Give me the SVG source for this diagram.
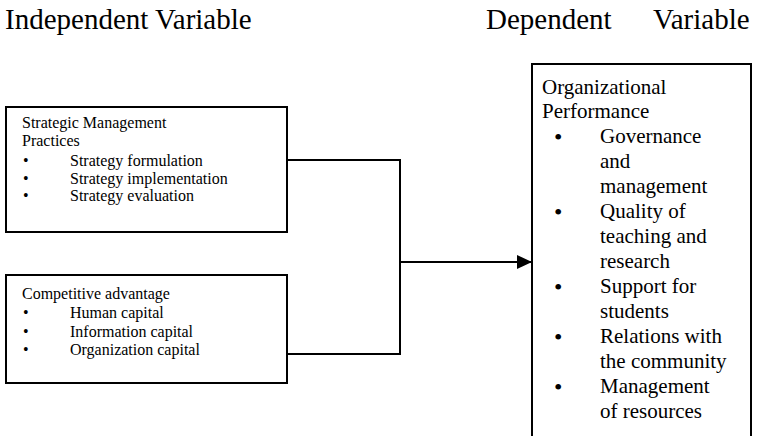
<svg xmlns="http://www.w3.org/2000/svg" width="760" height="436" viewBox="0 0 760 436" font-family="'Liberation Serif', 'Times New Roman', Times, serif">
<defs>
<style>
text{font-family:'Liberation Serif','Times New Roman',Times,serif;fill:#000}
.h{font-size:29px}
.s{font-size:16px}
.m{font-size:21px}
.bm{font-size:24px}
.box{fill:#fff;stroke:#000;stroke-width:2}
.conn{fill:none;stroke:#000;stroke-width:2}
</style>
<marker id="arr" markerWidth="15" markerHeight="14" refX="15" refY="7" orient="auto" markerUnits="userSpaceOnUse">
<path d="M0,0 L15,7 L0,14 Z" fill="#000"/>
</marker>
</defs>
<rect width="760" height="436" fill="#fff"/>
<g id="headings">
<text class="h" x="5" y="29">Independent Variable</text>
<text class="h" x="486" y="29">Dependent</text>
<text class="h" x="653" y="29">Variable</text>
</g>
<g id="connectors">
<polyline class="conn" points="287,160 400,160 400,354 287,354"/>
<line class="conn" x1="400" y1="262" x2="532" y2="262" marker-end="url(#arr)"/>
</g>
<g id="strategic-management">
<rect class="box" x="6" y="107" width="281" height="125"/>
<text class="s" x="22" y="128">Strategic Management</text>
<text class="s" x="22" y="146">Practices</text>
<text class="s" x="23" y="166">•</text><text class="s" x="70" y="166">Strategy formulation</text>
<text class="s" x="23" y="184">•</text><text class="s" x="70" y="184">Strategy implementation</text>
<text class="s" x="23" y="201">•</text><text class="s" x="70" y="201">Strategy evaluation</text>
</g>
<g id="competitive-advantage">
<rect class="box" x="6" y="275" width="281" height="108"/>
<text class="s" x="22" y="299">Competitive advantage</text>
<text class="s" x="23" y="318">•</text><text class="s" x="70" y="318">Human capital</text>
<text class="s" x="23" y="337">•</text><text class="s" x="70" y="337">Information capital</text>
<text class="s" x="23" y="355">•</text><text class="s" x="70" y="355">Organization capital</text>
</g>
<g id="organizational-performance">
<rect class="box" x="532" y="64" width="219" height="385"/>
<text class="m" x="542" y="94">Organizational</text>
<text class="m" x="542" y="118">Performance</text>
<text class="bm" x="554" y="145">•</text><text class="m" x="600" y="143">Governance</text>
<text class="m" x="600" y="168">and</text>
<text class="m" x="600" y="193">management</text>
<text class="bm" x="554" y="220">•</text><text class="m" x="600" y="218">Quality of</text>
<text class="m" x="600" y="243">teaching and</text>
<text class="m" x="600" y="268">research</text>
<text class="bm" x="554" y="295">•</text><text class="m" x="600" y="293">Support for</text>
<text class="m" x="600" y="318">students</text>
<text class="bm" x="554" y="345">•</text><text class="m" x="600" y="343">Relations with</text>
<text class="m" x="600" y="368">the community</text>
<text class="bm" x="554" y="395">•</text><text class="m" x="600" y="393">Management</text>
<text class="m" x="600" y="418">of resources</text>
</g>
</svg>
